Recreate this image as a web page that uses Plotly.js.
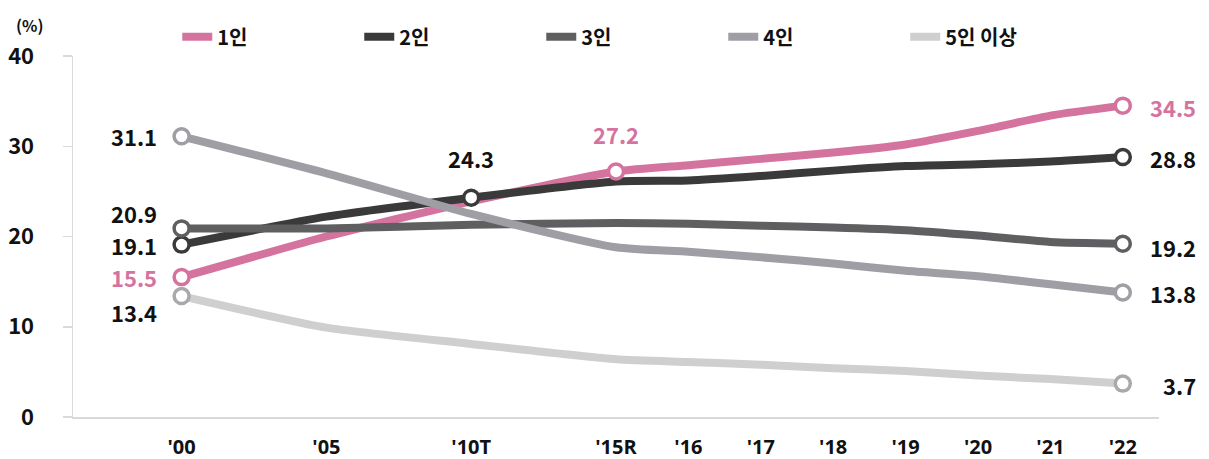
<!DOCTYPE html>
<html>
<head>
<meta charset="utf-8">
<script src="https://cdn.plot.ly/plotly-3.0.1.min.js"></script>
<style>
html,body{margin:0;padding:0;background:#fff;}
#chart{width:1209px;height:459px;}
</style>
</head>
<body>
<div id="chart"></div>
<script>
// ---- data ----
const years = ["'00", "'05", "'10T", "'15R", "'16", "'17", "'18", "'19", "'20", "'21", "'22"];
const seriesNames = ["1인", "2인", "3인", "4인", "5인 이상"];
const onePerson   = [15.5, 20.0, 23.9, 27.2, 27.9, 28.6, 29.3, 30.2, 31.7, 33.4, 34.5];
const twoPerson   = [19.1, 22.2, 24.3, 26.1, 26.2, 26.7, 27.3, 27.8, 28.0, 28.3, 28.8];
const threePerson = [20.9, 20.9, 21.3, 21.5, 21.4, 21.2, 21.0, 20.7, 20.1, 19.4, 19.2];
const fourPerson  = [31.1, 27.0, 22.5, 18.8, 18.3, 17.7, 17.0, 16.2, 15.6, 14.7, 13.8];
const fivePlus    = [13.4, 9.9, 8.1, 6.4, 6.1, 5.8, 5.4, 5.1, 4.6, 4.2, 3.7];
const yTicks = [0, 10, 20, 30, 40];
// indexes of the points that carry a marker and value label
const markedPoints = [[0, 3, 10], [0, 2, 10], [0, 10], [0, 10], [0, 10]];

// ---- styling ----
const allSeries = [onePerson, twoPerson, threePerson, fourPerson, fivePlus];
const lineColors = ['#d5739f', '#3a3a3a', '#5f5f61', '#9e9ea4', '#cfcfcf'];
const markerColors = ['#d5739f', '#3a3a3a', '#5f5f61', '#9e9ea4', '#a9a9ad'];
const labelColors = ['#d5739f', '#111111', '#111111', '#111111', '#111111'];
const FONT = '"Noto Sans CJK KR", "Open Sans", sans-serif';

// category order with blank spacers so that 5-year steps take twice the room
const catOrder = ["'00", " ", "'05", "  ", "'10T", "   ", "'15R", "'16", "'17", "'18", "'19", "'20", "'21", "'22"];

const traces = [];
allSeries.forEach((ys, i) => {
  traces.push({
    type: 'scatter', mode: 'lines', name: seriesNames[i],
    x: years, y: ys,
    line: {color: lineColors[i], width: 8, shape: 'spline', smoothing: 0.6},
    hoverinfo: 'skip'
  });
});
allSeries.forEach((ys, i) => {
  const idx = markedPoints[i];
  traces.push({
    type: 'scatter', mode: 'markers', showlegend: false,
    x: idx.map(k => years[k]), y: idx.map(k => ys[k]),
    marker: {size: 15, color: '#ffffff', line: {color: markerColors[i], width: 3.5}},
    hoverinfo: 'skip'
  });
});

// label placement (pixel offsets from the point)
function placement(s, k) {
  if (k === 0) {
    let ys = 0;
    if (s === 2) ys = 15;
    if (s === 4) ys = -16;
    return {xanchor: 'right', xshift: -23, yshift: ys};
  }
  if (k === 10) return {xanchor: 'right', xshift: 75, yshift: (s === 2 ? -3 : -1)};
  return {xanchor: 'center', xshift: 0, yshift: (s === 0 ? 38 : 40)};
}
const annotations = [];
allSeries.forEach((ys, s) => {
  markedPoints[s].forEach(k => {
    const p = placement(s, k);
    annotations.push({
      x: years[k], y: ys[k], xref: 'x', yref: 'y',
      text: ys[k].toFixed(1), showarrow: false,
      xanchor: p.xanchor, yanchor: 'middle', xshift: p.xshift, yshift: p.yshift,
      font: {family: FONT, size: 22, color: labelColors[s], weight: 'bold'}
    });
  });
});
annotations.push({
  xref: 'paper', yref: 'paper', x: -0.04, y: 1.085, xanchor: 'center', yanchor: 'middle',
  text: '(%)', showarrow: false,
  font: {family: FONT, size: 16, color: '#111111', weight: 'bold'}
});

const layout = {
  width: 1209, height: 459,
  margin: {l: 73, r: 50, t: 56, b: 42},
  paper_bgcolor: '#ffffff', plot_bgcolor: '#ffffff',
  showlegend: true,
  legend: {
    orientation: 'h', x: 0.096, y: 1.053, xanchor: 'left', yanchor: 'middle',
    entrywidth: 137, entrywidthmode: 'pixels',
    font: {family: FONT, size: 20, color: '#111111', weight: 'bold'},
    traceorder: 'normal'
  },
  xaxis: {
    type: 'category', categoryorder: 'array', categoryarray: catOrder,
    range: [-1.5, 13.5], showgrid: false, zeroline: false,
    showline: true, linecolor: '#d9d9d9', linewidth: 1.5,
    ticks: '', ticklabelstandoff: 11,
    tickfont: {family: '"Open Sans", sans-serif', size: 20, color: '#111111', weight: 'bold'},
    fixedrange: true
  },
  yaxis: {
    range: [0, 40], tickvals: yTicks, ticktext: yTicks.map(String),
    showgrid: false, zeroline: false,
    showline: true, linecolor: '#d9d9d9', linewidth: 1.5,
    ticks: 'outside', ticklen: 9, tickcolor: '#d9d9d9', tickwidth: 1.5,
    ticklabelstandoff: 24,
    tickfont: {family: FONT, size: 22, color: '#111111', weight: 'bold'},
    fixedrange: true
  },
  annotations: annotations
};

Plotly.newPlot('chart', traces, layout, {displayModeBar: false, staticPlot: true});
</script>
</body>
</html>
